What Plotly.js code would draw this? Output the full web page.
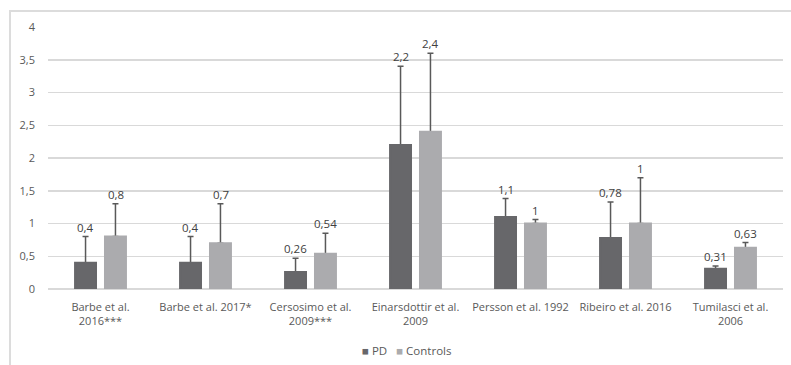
<!DOCTYPE html>
<html><head><meta charset="utf-8">
<script src="https://cdn.plot.ly/plotly-3.0.1.min.js"></script>
<style>
body{margin:0;background:#fff;}
#frame{position:absolute;left:9px;top:10px;width:820px;height:400px;border:2px solid #dcdcdc;}
#chart{position:absolute;left:0;top:0;width:791px;height:365px;}
</style></head>
<body>
<div id="frame"></div>
<div id="chart"></div>
<script>
const categories = ["Barbe et al.<br>2016***", "Barbe et al. 2017*", "Cersosimo et al.<br>2009***", "Einarsdottir et al.<br>2009", "Persson et al. 1992", "Ribeiro et al. 2016", "Tumilasci et al.<br>2006"];
const pdValues = [0.4, 0.4, 0.26, 2.2, 1.1, 0.78, 0.31];
const pdErrors = [0.4, 0.4, 0.21, 1.2, 0.28, 0.55, 0.04];
const ctrlValues = [0.8, 0.7, 0.54, 2.4, 1.0, 1.0, 0.63];
const ctrlErrors = [0.5, 0.6, 0.31, 1.2, 0.06, 0.7, 0.08];
const pdLabels = ["0,4", "0,4", "0,26", "2,2", "1,1", "0,78", "0,31"];
const ctrlLabels = ["0,8", "0,7", "0,54", "2,4", "1", "1", "0,63"];
const seriesNames = ["PD", "Controls"];
const seriesColors = ["#67676a", "#ababae"];

const FAM = "'Open Sans', sans-serif";
const font = {family: FAM, size: 11, color: "#595959"};
const errStyle = {type: "data", symmetric: false, arrayminus: pdValues.map(() => 0), color: "#595959", thickness: 1.5, width: 3};

const traces = [
  {type: "bar", name: seriesNames[0], offsetgroup: "pd", x: categories, y: pdValues, marker: {color: seriesColors[0]},
   error_y: Object.assign({}, errStyle, {array: pdErrors}), hoverinfo: "skip"},
  {type: "bar", name: seriesNames[1], offsetgroup: "ctrl", x: categories, y: ctrlValues, marker: {color: seriesColors[1]},
   error_y: Object.assign({}, errStyle, {array: ctrlErrors}), hoverinfo: "skip"},
  // same bars again on top, hiding the error-bar cap at the bar top
  {type: "bar", name: seriesNames[0], offsetgroup: "pd", x: categories, y: pdValues,
   marker: {color: seriesColors[0], line: {color: seriesColors[0], width: 2}}, hoverinfo: "skip", showlegend: false},
  {type: "bar", name: seriesNames[1], offsetgroup: "ctrl", x: categories, y: ctrlValues,
   marker: {color: seriesColors[1], line: {color: seriesColors[1], width: 2}}, hoverinfo: "skip", showlegend: false}
];

const annotations = [];
categories.forEach((c, i) => {
  annotations.push({x: c, y: pdValues[i] + pdErrors[i], text: pdLabels[i], xref: "x", yref: "y",
    showarrow: false, yanchor: "bottom", xshift: -15, yshift: 0, font: {family: FAM, size: 11.5, color: "#404040"}});
  annotations.push({x: c, y: ctrlValues[i] + ctrlErrors[i], text: ctrlLabels[i], xref: "x", yref: "y",
    showarrow: false, yanchor: "bottom", xshift: 15, yshift: 0, font: {family: FAM, size: 11.5, color: "#404040"}});
});
// legend drawn as text annotation
annotations.push({xref: "paper", yref: "paper", x: 0.4884, y: -0.235, xanchor: "center", yanchor: "middle", showarrow: false,
  text: "<span style='color:" + seriesColors[0] + "'>■</span> " + seriesNames[0] + "&nbsp;&nbsp;&nbsp;<span style='color:" + seriesColors[1] + "'>■</span> " + seriesNames[1],
  font: {family: FAM, size: 11.5, color: "#595959"}});

const layout = {
  width: 791, height: 365,
  margin: {l: 48, r: 8, t: 27, b: 76},
  paper_bgcolor: "rgba(0,0,0,0)", plot_bgcolor: "rgba(0,0,0,0)",
  separators: ",.",
  font: font,
  barmode: "group", bargap: 0.43, bargroupgap: 0.3,
  showlegend: false,
  xaxis: {type: "category", showgrid: false, showline: false, ticks: "", ticklabelstandoff: 10, tickfont: {family: FAM, size: 11, color: "#595959"}, automargin: false},
  yaxis: {range: [0, 4], dtick: 0.5, showgrid: true, gridcolor: "#d9d9d9", gridwidth: 1.5, zeroline: true, zerolinecolor: "#d9d9d9", zerolinewidth: 1.5,
    ticks: "", ticklabelstandoff: 12, tickfont: {family: FAM, size: 11, color: "#595959"}, automargin: false},
  annotations: annotations
};
Plotly.newPlot("chart", traces, layout, {staticPlot: true, displayModeBar: false});
</script>
</body></html>
